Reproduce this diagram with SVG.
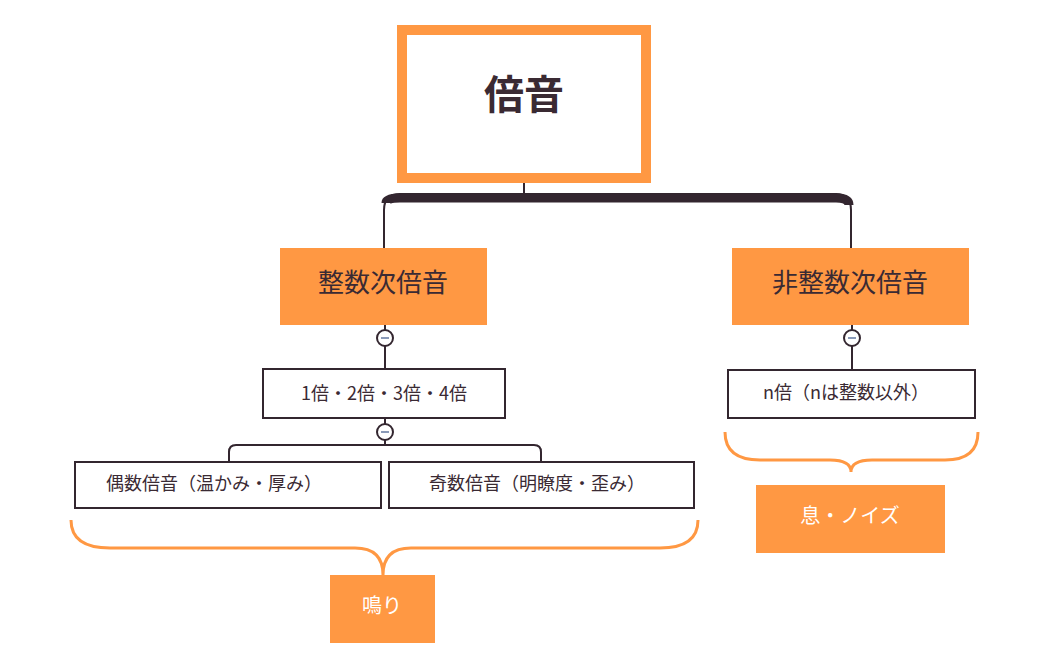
<svg xmlns="http://www.w3.org/2000/svg" width="1052" height="660" viewBox="0 0 1052 660">
<style>
text{font-family:"Noto Sans CJK JP","Liberation Sans",sans-serif;fill:#3a2a33;text-anchor:middle;dominant-baseline:central}
.or{fill:#ff9843}
.bx{fill:#fff;stroke:#33262f;stroke-width:2}
.ln{fill:none;stroke:#33262f;stroke-width:2}
.br{fill:none;stroke:#ff9843;stroke-width:3}
.w{fill:#fff}
</style>
<rect width="1052" height="660" fill="#fff"/>
<g id="connectors">
<line class="ln" x1="524" y1="183" x2="524" y2="200"/>
<path d="M384,248 V210 Q384,194 400,194 H836 Q851,194 851,210 V248" fill="none" stroke="#33262f" stroke-width="2"/>
<path d="M386,203 Q386,198 400,198 H836 Q849,198 849,205" fill="none" stroke="#33262f" stroke-width="9"/>
<line class="ln" x1="385" y1="325" x2="385" y2="369"/>
<line class="ln" x1="852" y1="325" x2="852" y2="370"/>
<line class="ln" x1="385" y1="418" x2="385" y2="445"/>
<path class="ln" d="M229,462 V452 Q229,445 236,445 H534 Q541,445 541,452 V462"/>
<path class="br" d="M71,520 Q71,548 110,548 H355 Q383,548 383,575 Q383,548 411,548 H660 Q698,548 698,520"/>
<path class="br" d="M725,432 Q725,460 760,460 H830 Q851,460 851,472 Q851,460 872,460 H945 Q978,460 978,432"/>
</g>
<g id="root"><rect x="402" y="30" width="244" height="148" fill="#fff" stroke="#ff9843" stroke-width="10"/><text x="524" y="92" font-size="40" font-weight="bold">倍音</text></g>
<g id="n1"><rect class="or" x="280" y="248" width="207" height="77"/><text x="383" y="280" font-size="26">整数次倍音</text></g>
<g id="n2"><rect class="or" x="732" y="248" width="237" height="77"/><text x="850" y="280" font-size="26">非整数次倍音</text></g>
<g id="c1"><circle cx="385" cy="338" r="8" class="bx" stroke-width="1.5"/><line x1="381" y1="338" x2="389" y2="338" stroke="#8a9ab8" stroke-width="2"/></g>
<g id="c2"><circle cx="852" cy="338" r="8" class="bx" stroke-width="1.5"/><line x1="848" y1="338" x2="856" y2="338" stroke="#8a9ab8" stroke-width="2"/></g>
<g id="c3"><circle cx="385" cy="432" r="8" class="bx" stroke-width="1.5"/><line x1="381" y1="432" x2="389" y2="432" stroke="#8a9ab8" stroke-width="2"/></g>
<g id="n3"><rect class="bx" x="263" y="369" width="242" height="49"/><text x="384" y="392" font-size="18">1倍・2倍・3倍・4倍</text></g>
<g id="n4"><rect class="bx" x="728" y="370" width="247" height="48"/><text x="846" y="391" font-size="18">n倍（nは整数以外）</text></g>
<g id="n5"><rect class="bx" x="75" y="462" width="306" height="46"/><text x="214" y="482" font-size="18">偶数倍音（温かみ・厚み）</text></g>
<g id="n6"><rect class="bx" x="389" y="462" width="305" height="46"/><text x="537" y="482" font-size="18">奇数倍音（明瞭度・歪み）</text></g>
<g id="l1"><rect class="or" x="330" y="575" width="105" height="68"/><text class="w" x="382" y="604" font-size="20">鳴り</text></g>
<g id="l2"><rect class="or" x="756" y="485" width="189" height="68"/><text class="w" x="850" y="514" font-size="20">息・ノイズ</text></g>
</svg>
